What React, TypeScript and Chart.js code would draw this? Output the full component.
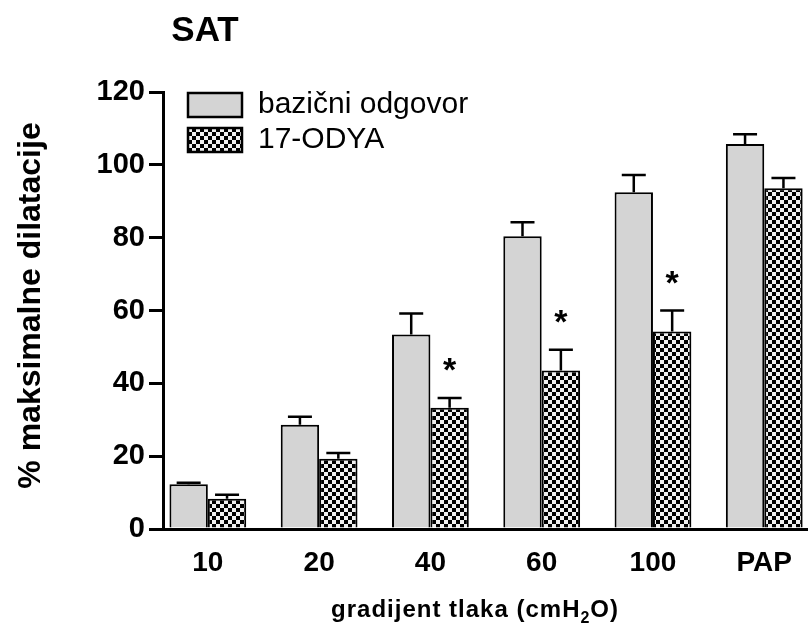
import React, { useEffect, useRef } from 'react';
import { Chart, registerables } from 'chart.js';

Chart.register(...registerables);

const categories = ['10', '20', '40', '60', '100', 'PAP'];
const seriesNames = ['bazični odgovor', '17-ODYA'];
const baselineValues = [12.3, 28.6, 53.4, 80.4, 92.5, 105.7];
const baselineErrors = [0.4, 2.2, 5.8, 3.8, 4.7, 2.7];
const odyaValues = [8.3, 19.3, 33.3, 43.5, 54.2, 93.6];
const odyaErrors = [1.1, 1.6, 2.7, 5.7, 5.8, 2.8];
const odyaSignificant = [false, false, true, true, true, false];
const yMin = 0;
const yMax = 120;
const yStep = 20;

const FONT = "'Liberation Sans', Arial, Helvetica, sans-serif";
const GRAY = '#d4d4d4';

function makeChecker(): CanvasPattern | string {
  const c = document.createElement('canvas');
  c.width = 8;
  c.height = 8;
  const g = c.getContext('2d');
  if (!g) return '#777';
  g.fillStyle = '#f0f0f0';
  g.fillRect(0, 0, 8, 8);
  g.fillStyle = '#000';
  g.fillRect(0, 0, 4, 4);
  g.fillRect(4, 4, 4, 4);
  return g.createPattern(c, 'repeat') || '#777';
}

export default function App() {
  const ref = useRef<HTMLCanvasElement | null>(null);

  useEffect(() => {
    const canvas = ref.current;
    if (!canvas) return;
    const checker = makeChecker();
    const errorSets = [baselineErrors, odyaErrors];
    const valueSets = [baselineValues, odyaValues];

    const errorBarPlugin = {
      id: 'errorBars',
      afterDatasetsDraw(chart: any) {
        const ctx = chart.ctx;
        const yScale = chart.scales.y;
        ctx.save();
        ctx.strokeStyle = '#000';
        ctx.lineWidth = 2.5;
        ctx.fillStyle = '#000';
        for (let d = 0; d < 2; d++) {
          const meta = chart.getDatasetMeta(d);
          meta.data.forEach((el: any, i: number) => {
            const top = yScale.getPixelForValue(valueSets[d][i] + errorSets[d][i]);
            const x = el.x;
            ctx.beginPath();
            ctx.moveTo(x, el.y);
            ctx.lineTo(x, top);
            ctx.moveTo(x - 12, top);
            ctx.lineTo(x + 12, top);
            ctx.stroke();
            if (d === 1 && odyaSignificant[i]) {
              ctx.font = `bold 34px ${FONT}`;
              ctx.textAlign = 'center';
              ctx.textBaseline = 'alphabetic';
              ctx.fillText('*', x, top - 36 + 19);
            }
          });
        }
        ctx.restore();
      },
    };

    const decorPlugin = {
      id: 'decor',
      afterDraw(chart: any) {
        const ctx = chart.ctx;
        const area = chart.chartArea;
        ctx.save();
        ctx.fillStyle = '#000';
        // Title
        ctx.font = `bold 35px ${FONT}`;
        ctx.textAlign = 'center';
        ctx.textBaseline = 'middle';
        ctx.fillText('SAT', 205, 31);

        // Legend
        const fills = [GRAY, checker];
        seriesNames.forEach((name, i) => {
          const lx = area.left + 25;
          const ly = area.top + 1 + i * 35;
          ctx.fillStyle = fills[i] as any;
          ctx.fillRect(lx, ly, 54, 24);
          ctx.strokeStyle = '#000';
          ctx.lineWidth = 2.5;
          ctx.strokeRect(lx, ly, 54, 24);
          ctx.fillStyle = '#000';
          ctx.font = `30px ${FONT}`;
          ctx.textAlign = 'left';
          ctx.textBaseline = 'middle';
          ctx.fillText(name, lx + 70, ly + 12);
        });

        // Y title
        ctx.save();
        ctx.translate(31, (area.top + area.bottom) / 2 - 5);
        ctx.rotate(-Math.PI / 2);
        ctx.font = `bold 32px ${FONT}`;
        ctx.textAlign = 'center';
        ctx.textBaseline = 'middle';
        ctx.fillText('% maksimalne dilatacije', 0, 0);
        ctx.restore();

        // X title with subscript
        (ctx as any).letterSpacing = '1px';
        const p1 = 'gradijent tlaka (cmH';
        const p2 = '2';
        const p3 = 'O)';
        ctx.textAlign = 'left';
        ctx.textBaseline = 'alphabetic';
        ctx.font = `bold 24px ${FONT}`;
        const w1 = ctx.measureText(p1).width;
        const w3 = ctx.measureText(p3).width;
        ctx.font = `bold 16px ${FONT}`;
        const w2 = ctx.measureText(p2).width;
        const total = w1 + w2 + w3;
        const cx = (area.left + area.right) / 2 - 10;
        let x = cx - total / 2;
        const base = 617;
        ctx.font = `bold 24px ${FONT}`;
        ctx.fillText(p1, x, base);
        x += w1;
        ctx.font = `bold 16px ${FONT}`;
        ctx.fillText(p2, x, base + 6);
        x += w2;
        ctx.font = `bold 24px ${FONT}`;
        ctx.fillText(p3, x, base);
        ctx.restore();
      },
    };

    const chart = new Chart(canvas, {
      type: 'bar',
      data: {
        datasets: [
          {
            label: seriesNames[0],
            data: baselineValues.map((v, i) => ({ x: i, y: v })),
            backgroundColor: GRAY,
            borderColor: '#000',
            borderWidth: 2,
          },
          {
            label: seriesNames[1],
            data: odyaValues.map((v, i) => ({ x: i, y: v })),
            backgroundColor: checker as any,
            borderColor: '#000',
            borderWidth: 2,
          },
        ],
      },
      options: {
        responsive: false,
        animation: false,
        events: [],
        layout: { padding: { top: 92, left: 0, right: 0, bottom: 0 } },
        datasets: {
          bar: { categoryPercentage: 0.69, barPercentage: 1 },
        },
        plugins: {
          legend: { display: false },
          tooltip: { enabled: false },
          title: { display: false },
        },
        scales: {
          x: {
            type: 'linear',
            min: -0.403,
            max: 5.385,
            offset: false,
            grid: { display: true, drawOnChartArea: false, drawTicks: false },
            border: { display: true, color: '#000', width: 3 },
            ticks: {
              stepSize: 1,
              includeBounds: false,
              autoSkip: false,
              maxRotation: 0,
              padding: 17,
              color: '#000',
              font: { family: FONT, size: 28, weight: 'bold' },
              callback: (v: any) => categories[v] ?? '',
            },
            afterFit: (s: any) => {
              s.height = 630 - 529;
            },
          },
          y: {
            min: yMin,
            max: yMax,
            grid: {
              drawOnChartArea: false,
              drawTicks: true,
              tickLength: 14,
              lineWidth: 3,
              color: '#000',
            },
            border: { display: true, color: '#000', width: 3 },
            ticks: {
              stepSize: yStep,
              padding: 4,
              color: '#000',
              font: { family: FONT, size: 29, weight: 'bold' },
            },
            afterFit: (s: any) => {
              s.width = 163;
            },
          },
        },
      } as any,
      plugins: [errorBarPlugin, decorPlugin],
    });
    return () => chart.destroy();
  }, []);

  return (
    <div style={{ position: 'fixed', left: 0, top: 0, width: 809, height: 630, background: '#fff' }}>
      <canvas ref={ref} width={809} height={630} style={{ display: 'block' }} />
    </div>
  );
}
